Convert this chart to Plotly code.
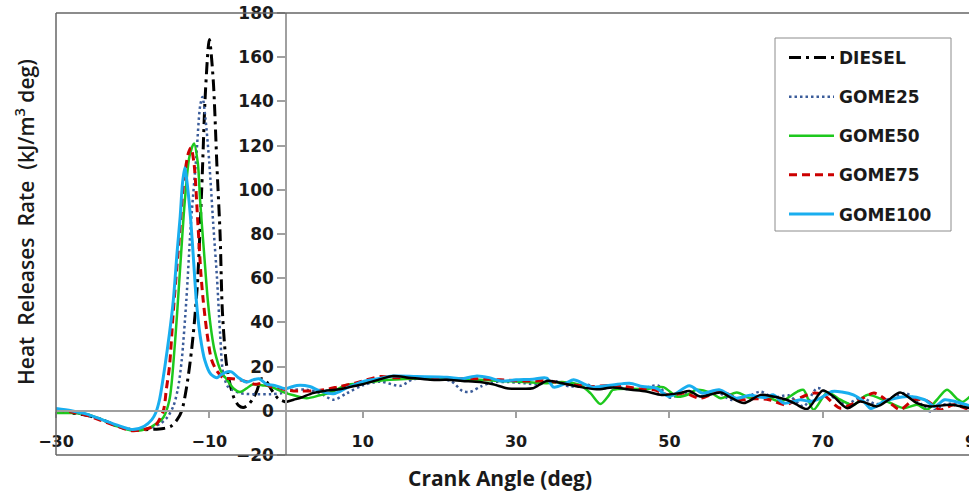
import plotly.graph_objects as go

# ---------------- data ----------------
diesel_x = [-30, -28, -26, -24, -22, -20, -18, -16, -15, -14.2, -13.6, -13, -12.3, -11.6, -11, -10.5, -10, -9.5, -9,
            -8.6, -8.3, -7.8, -7.3, -6.8, -6.2, -5.6, -5, -4.4, -3.8, -3.2, -2.5, -1.8, -1, 0,
            1, 2, 3.5, 5, 6.5, 8, 10, 12, 14, 16, 18.8, 21, 23, 25.3, 27, 28.8, 30.5, 32.2, 34, 36, 38, 40.5,
            42.6, 45, 47, 49, 51.3, 52.6, 54, 56.7, 58, 59.7, 61.9, 63.5, 65.3, 66.5, 68, 70, 71.4, 73.2, 74.9,
            77.1, 78.6, 80.1, 82.3, 84, 86.7, 89.1]
diesel_y = [0, -1, -2, -4, -7, -8.5, -8.5, -8, -7, -4, 0, 10, 28, 55, 100, 145, 168, 150, 110,
            80, 45, 22, 12, 6, 2.5, 1.5, 2.5, 5, 9, 14.5, 13, 9, 5.5, 4,
            5, 6, 8, 9, 9.5, 10.5, 12, 14, 15.7, 15, 14, 14, 13.5, 13, 12, 10.2, 10, 10.2, 13.5, 12.5, 11, 9.7,
            10.5, 9.5, 8.7, 7.2, 8, 9, 6.5, 8.3, 6, 3.5, 7.2, 6.5, 5, 3, 0.8, 9.2, 6.5, 1.2, 4.2,
            2, 5, 8.3, 3.5, 2, 2.7, 1.2]

gome25_x = [-30, -28, -26, -24, -22, -20, -18, -16.5, -15.5, -14.7, -14.1, -13.6, -13, -12.4, -11.7, -11.2, -10.9,
            -10.5, -10, -9.5, -9, -8.6, -8.2, -7.6, -7, -6, -4, -2, -0.5, 1, 2.7, 4.4, 6.2, 7.9, 10, 12.3, 14.9,
            16.6, 19, 21.5, 23, 24, 25.4, 26.9, 29, 31, 33, 35, 37, 39, 41, 43, 45, 47, 48.5, 50, 52, 54, 56,
            58, 60, 61.9, 63.5, 65.5, 67.5, 69.3, 71, 73, 75, 77, 79, 80.8, 82.5, 84, 86, 88, 90]
gome25_y = [0.5, -0.5, -2, -4, -7, -8.5, -8, -6, -3, 2, 10, 23, 50, 85, 115, 138, 142,
            132, 112, 85, 60, 35, 17, 11, 9.5, 8, 7.5, 7.5, 8, 9.5, 9.5, 8, 5, 7.9, 11.5, 13.2, 11.3,
            14.3, 14.5, 13.5, 9, 8.6, 11, 12.9, 13, 12.5, 12, 13.5, 11, 12, 10, 11, 9.5, 10.5, 11.5, 6, 8, 6.5, 9,
            5, 6, 8.7, 6, 7, 2, 10.3, 7, 3, 6, 3, 6, 8, 4, -0.3, 3, 3, 1.5]

gome50_x = [-30, -28, -26, -24, -22, -20, -18, -17, -16, -15.2, -14.5, -13.8, -13.2, -12.6, -12, -11.5, -11.2,
            -10.7, -10.2, -9.7, -9.3, -8.5, -7.7, -6.8, -6, -5.2, -4.3, -3, -2, -1, 0, 1, 2.7, 4.4, 6, 7.9, 10,
            12, 13.6, 16, 19, 22, 25.3, 28, 30.5, 34, 36, 38.3, 39.7, 41, 42.1, 42.6, 45, 47, 49.2, 51, 52.5,
            53.5, 55.5, 56.7, 58.8, 60.6, 62.5, 64.5, 66.7, 67.5, 68.8, 70.6, 72.3, 74, 75.8, 78.4, 80.6, 82.3,
            83.6, 84.9, 86.2, 87.5, 88.2, 89.3]
gome50_y = [-1, -1, -1.5, -4, -7, -9, -8, -6, -3, 5, 30, 65, 95, 115, 121, 112, 95,
            72, 50, 35, 27, 18, 14, 10, 8.5, 10, 12, 11.5, 11, 9.5, 8, 7, 5.7, 7, 8.5, 11.7, 12.5,
            13.5, 14, 14.5, 14.5, 14, 14, 13.5, 13.2, 12.5, 13, 11.7, 8, 3.1, 7, 9.4, 10, 9.8, 10.7, 6.4, 7.5,
            9.5, 8, 5.7, 8.3, 5.7, 6.5, 4.2, 8.7, 9.5, 0.5, 8.3, 5, 2.7, 7.2, 4.2, 1.2, 2.7,
            0.5, 5, 9.5, 5.5, 4, 6.8]

gome75_x = [-30, -28, -26, -24, -22, -20, -18, -17, -16, -15.6, -15.2, -14.7, -14, -13.3, -12.7, -12.4, -12,
            -11.5, -11.1, -10.8, -10.3, -9.7, -9, -8.2, -7, -6, -5, -4, -3, -2, -1, 0, 1, 2, 3.5, 5, 7, 9,
            12.3, 14, 16, 19, 22, 25, 28, 31, 34, 36, 38, 40, 42, 44, 46, 48, 50, 52, 54, 56.7, 59.3, 61, 63,
            65.2, 66.5, 68.8, 70.1, 72.3, 74.5, 76.7, 78.8, 80.1, 81.9, 83.6, 85.3, 87.1, 89.1]
gome75_y = [0.5, -0.5, -2, -4.5, -7, -9, -8, -6.5, 0, 10, 20, 45, 75, 105, 117, 119, 112,
            85, 62, 50, 35, 23, 18, 15, 14.5, 14, 13, 12, 12.5, 11, 10.5, 9.5, 9, 9, 9, 9.5, 11, 12.5,
            15.5, 15, 15, 14.5, 14.5, 14.5, 14, 13.5, 13.5, 12.5, 11.5, 11, 11.5, 11, 10, 9.5, 7, 8, 5.7, 8.7, 5, 5.5, 5,
            2.7, 5, 8, 7.2, 1.2, 4.2, 8, 3.5, 0.5, 5, 4.5, 0.5, 2.7, 0.5]

gome100_x = [-30, -28, -26, -24, -22, -20, -18.5, -17.5, -17, -16.5, -15.8, -15.2, -14.7, -14.2, -13.8, -13.5,
             -13.2, -12.8, -12.4, -12, -11.7, -11.2, -10.6, -9.8, -9, -8.6, -7.8, -7.1, -6.2, -5.2, -4.3, -3.5,
             -2.5, -1.5, -0.1, 1.4, 3.1, 4.4, 6.2, 8, 10.1, 12, 14, 17, 21, 23, 24.9, 26.5, 28, 30, 32.2, 34,
             34.9, 36.5, 37.5, 39, 40, 42.6, 44.8, 46.5, 48.3, 50, 52.6, 54.3, 56.5, 58.7, 60.5, 62.5, 63.6,
             64.9, 67.1, 68.4, 69.7, 71.2, 72.5, 74, 75.4, 76.3, 78, 81, 83.3, 84.6, 85.9, 87.5, 89.4]
gome100_y = [1, 0, -1.5, -4, -6.5, -8.5, -7, -4, -1, 5, 20, 35, 50, 72, 88, 103,
             110, 100, 85, 65, 50, 34, 23, 16.5, 15, 16, 17.5, 17.6, 15, 13, 14, 14.5,
             12, 11.5, 10, 11.5, 11, 9, 7.7, 10.5, 13.3, 14.5, 15.7, 15.5, 15.2, 14.5, 15.8, 15, 13.5, 14, 14.3, 14.8,
             10.7, 12.5, 14, 12, 10.7, 11.7, 12.5, 11, 10.2, 6.5, 11.3, 8, 9.5, 5.7, 7, 6, 7.2,
             3.5, 5, 4.2, 5.7, 8.7, 8.5, 7.2, 4, 1, 4.2, 6.5, 5, 2, 5, 4, 2]

series_names = ["DIESEL", "GOME25", "GOME50", "GOME75", "GOME100"]
x_ticks = [-30, -10, 10, 30, 50, 70, 90]
y_ticks = [-20, 0, 20, 40, 60, 80, 100, 120, 140, 160, 180]
x_range = [-30, 89.08]
y_range = [-20, 180]

# ---------------- styles ----------------
W, H = 969, 494
ML, MT, MB = 56, 13, 39
PW, PH = W - ML, H - MT - MB


def px_to_paper_x(px):
    return (px - ML) / PW


def px_to_paper_y(py):
    return (H - MB - py) / PH


TICK_FONT = dict(family="DejaVu Sans", size=16, color="#1a1a1a", weight="bold")
styles = {
    "DIESEL": dict(color="#000000", width=3, dash="12px,5px,3px,5px"),
    "GOME25": dict(color="#3B5C9A", width=2.5, dash="2.5px,3px"),
    "GOME50": dict(color="#1DC81D", width=2.5, dash="solid"),
    "GOME75": dict(color="#CC0000", width=3, dash="8px,5px"),
    "GOME100": dict(color="#19AEEF", width=3, dash="solid"),
}

fig = go.Figure()


def add(name, xs, ys, showlegend=True, line=None):
    fig.add_trace(go.Scatter(
        x=xs, y=ys, mode="lines", name=name, legendgroup=name, showlegend=showlegend,
        line=dict(shape="spline", smoothing=0.8, **(line or styles[name])),
    ))


# DIESEL: dash-dot around the peak, continuous afterwards
split = diesel_x.index(0)
add("DIESEL", diesel_x[:split + 1], diesel_y[:split + 1])
add("GOME25", gome25_x, gome25_y)
add("GOME50", gome50_x, gome50_y)
add("GOME75", gome75_x, gome75_y)
add("GOME100", gome100_x, gome100_y)
add("DIESEL", diesel_x[split:], diesel_y[split:], showlegend=False,
    line=dict(color="#000000", width=2.5, dash="solid"))

x_pos = (0 - x_range[0]) / (x_range[1] - x_range[0])
y_pos = (0 - y_range[0]) / (y_range[1] - y_range[0])

fig.update_layout(
    width=W, height=H,
    margin=dict(l=ML, r=0, t=MT, b=MB),
    paper_bgcolor="white", plot_bgcolor="white",
    showlegend=True,
    xaxis=dict(range=x_range, anchor="free", position=y_pos, showgrid=False, zeroline=False,
               showline=True, linecolor="#a0a0a0", linewidth=1.5,
               tickmode="array", tickvals=x_ticks, ticks="outside", ticklen=6, tickwidth=1.5,
               tickcolor="#a0a0a0", tickfont=TICK_FONT, ticklabelstandoff=10),
    yaxis=dict(range=y_range, anchor="free", position=x_pos, showgrid=False, zeroline=False,
               showline=True, linecolor="#a0a0a0", linewidth=1.5,
               tickmode="array", tickvals=y_ticks, ticks="outside", ticklen=8, tickwidth=1.5,
               tickcolor="#a0a0a0", tickfont=dict(TICK_FONT, size=17)),
    legend=dict(x=px_to_paper_x(784), y=px_to_paper_y(40), xanchor="left", yanchor="top",
                bgcolor="rgba(0,0,0,0)", borderwidth=0,
                font=dict(family="DejaVu Sans", size=17, color="#1a1a1a", weight="bold"),
                traceorder="grouped", tracegroupgap=14, itemwidth=45),
)

# legend box
fig.add_shape(type="rect", xref="paper", yref="paper", layer="below",
              x0=px_to_paper_x(775), x1=px_to_paper_x(951), y0=px_to_paper_y(231), y1=px_to_paper_y(38),
              line=dict(color="#8c8c8c", width=1), fillcolor="white")

# frame (left, top, bottom)
for x0, x1, y0, y1 in [(0, 0, 0, 1), (0, 1, 1, 1), (0, 1, 0, 0)]:
    fig.add_shape(type="line", xref="paper", yref="paper", x0=x0, x1=x1, y0=y0, y1=y1,
                  line=dict(color="#666666", width=1.5))

# partially visible last x tick label (90 lies just past the right edge)
x90_frac = (x_ticks[-1] - x_range[0]) / (x_range[1] - x_range[0])
fig.add_annotation(x=x90_frac, xref="paper", y=px_to_paper_y(441), yref="paper",
                   text=str(x_ticks[-1]), showarrow=False, font=TICK_FONT,
                   xanchor="center", yanchor="middle")

fig.add_annotation(x=px_to_paper_x(500), y=px_to_paper_y(478), xref="paper", yref="paper",
                   text="Crank Angle (deg)", showarrow=False,
                   font=dict(family="Open Sans", size=21, color="#1a1a1a", weight="bold"),
                   xanchor="center", yanchor="middle")
fig.add_annotation(x=px_to_paper_x(24), y=px_to_paper_y(222), xref="paper", yref="paper",
                   text="Heat  Releases  Rate  (kJ/m<sup>3</sup> deg)", textangle=-90,
                   showarrow=False, font=dict(family="Open Sans", size=21, color="#1a1a1a", weight=600),
                   xanchor="center", yanchor="middle")

fig.write_html("out.html", config={"displayModeBar": False},
               post_script="document.body.style.margin='0';")
